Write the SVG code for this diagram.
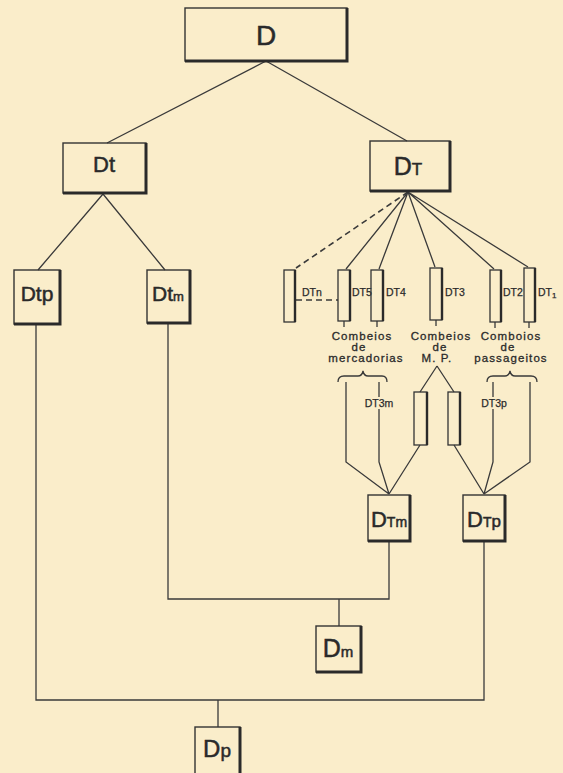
<svg xmlns="http://www.w3.org/2000/svg" width="563" height="773" viewBox="0 0 563 773">
<style>
.bg{fill:#faedca}
.box{fill:none;stroke:#333;stroke-width:1.4}
.sh{fill:none;stroke:#2a2a2a;stroke-width:3}
.bar{fill:none;stroke:#333;stroke-width:1.3}
.bsh{fill:none;stroke:#2a2a2a;stroke-width:2.4}
.ln{fill:none;stroke:#3a3a3a;stroke-width:1.3}
.dash{fill:none;stroke:#3a3a3a;stroke-width:1.6;stroke-dasharray:6 4}
.t{font-family:"Liberation Sans",Arial,sans-serif;fill:#2a2a2a;stroke:#2a2a2a;stroke-width:0.5;text-anchor:middle}
.lb{font-family:"Liberation Sans",Arial,sans-serif;fill:#2a2a2a;stroke:#2a2a2a;stroke-width:0.25;font-size:10.5px}
.hw{font-family:"Liberation Sans",Arial,sans-serif;fill:#2a2a2a;stroke:#2a2a2a;stroke-width:0.3;font-size:11.5px;text-anchor:middle;letter-spacing:1.1px}
</style>
<rect class="bg" x="0" y="0" width="563" height="773"/>
<g id="connectors">
<path class="ln" d="M266,61 L107,143 M266,61 L407,141"/>
<path class="ln" d="M103,194 L38,270 M103,194 L165,270"/>
<path class="dash" d="M408,192 L296,268"/>
<path class="ln" d="M408,192 L346,269 M408,192 L379,269 M408,192 L435,267 M408,192 L494,269 M408,192 L528,267"/>
<path class="dash" d="M296,300 L338,300"/>
<path class="ln" d="M344,321 V327 M377,321 V327 M436,320 V326 M495,322 V328 M529,322 V328"/>
<path class="ln" d="M338,382 Q338,376 344,376 L358,376 Q362,376 363,371 Q364,376 368,376 L382,376 Q387,376 387,382"/>
<path class="ln" d="M487,382 Q487,376 493,376 L505,376 Q509,376 510,371 Q511,376 515,376 L531,376 Q537,376 537,382"/>
<path class="ln" d="M437,366 L420,392 M437,366 L454,392"/>
<path class="ln" d="M346,382 V462 L389,494 M379,382 V397 M379,409 V462 L389,494 M420,445 L389,494"/>
<path class="ln" d="M493,382 V397 M493,409 V462 L484,494 M530,382 V462 L484,494 M454,445 L484,494"/>
<path class="ln" d="M168,323 V599 H389 V541 M339,599 V626"/>
<path class="ln" d="M36,324 V700 H484 V541 M218,700 V727"/>
</g>
<g id="D"><rect class="box" x="185" y="8" width="162" height="53"/><polyline class="sh" points="347,8 347,61 185,61"/><text class="t" x="266" y="45" font-size="28">D</text></g>
<g id="Dt"><rect class="box" x="63" y="143" width="83" height="50"/><polyline class="sh" points="146,143 146,193 63,193"/><text class="t" x="104" y="172" font-size="22">Dt</text></g>
<g id="DT"><rect class="box" x="370" y="141" width="80" height="50"/><polyline class="sh" points="450,141 450,191 370,191"/><text class="t" x="408" y="175" font-size="25">D<tspan font-size="17">T</tspan></text></g>
<g id="Dtp"><rect class="box" x="14" y="270" width="46" height="54"/><polyline class="sh" points="60,270 60,324 14,324"/><text class="t" x="37" y="301" font-size="21">Dtp</text></g>
<g id="Dtm"><rect class="box" x="147" y="270" width="43" height="53"/><polyline class="sh" points="190,270 190,323 147,323"/><text class="t" x="168" y="301" font-size="21">Dt<tspan font-size="13">m</tspan></text></g>
<g id="DTn"><rect class="bar" x="284" y="270" width="11" height="52"/><line class="bsh" x1="295" y1="270" x2="295" y2="322"/><text class="lb" x="302" y="296">DTn</text></g>
<g id="DT5"><rect class="bar" x="338" y="270" width="12" height="51"/><line class="bsh" x1="350" y1="270" x2="350" y2="321"/><text class="lb" x="352" y="296">DT5</text></g>
<g id="DT4"><rect class="bar" x="371" y="270" width="12" height="51"/><line class="bsh" x1="383" y1="270" x2="383" y2="321"/><text class="lb" x="386" y="296">DT4</text></g>
<g id="DT3"><rect class="bar" x="430" y="268" width="12" height="52"/><line class="bsh" x1="442" y1="268" x2="442" y2="320"/><text class="lb" x="445" y="296">DT3</text></g>
<g id="DT2"><rect class="bar" x="490" y="270" width="11" height="52"/><line class="bsh" x1="501" y1="270" x2="501" y2="322"/><text class="lb" x="503" y="296">DT2</text></g>
<g id="DT1"><rect class="bar" x="524" y="268" width="11" height="54"/><line class="bsh" x1="535" y1="268" x2="535" y2="322"/><text class="lb" x="538" y="296">DT<tspan font-size="8" dy="2">1</tspan></text></g>
<g id="merc"><text class="hw" x="362" y="340">Combeios</text><text class="hw" x="359" y="351">de</text><text class="hw" x="366" y="362">mercadorias</text></g>
<g id="mp"><text class="hw" x="441" y="340">Combeios</text><text class="hw" x="440" y="351">de</text><text class="hw" x="437" y="362">M. P.</text></g>
<g id="pass"><text class="hw" x="511" y="340">Comboios</text><text class="hw" x="508" y="351">de</text><text class="hw" x="511" y="362">passageitos</text></g>
<g id="MP1"><rect class="bar" x="414" y="392" width="13" height="53"/><line class="bsh" x1="427" y1="392" x2="427" y2="445"/></g>
<g id="MP2"><rect class="bar" x="448" y="392" width="12" height="53"/><line class="bsh" x1="460" y1="392" x2="460" y2="445"/></g>
<g id="DT3m"><text class="lb" x="379" y="407" text-anchor="middle" font-size="9.5">DT3m</text></g>
<g id="DT3p"><text class="lb" x="494" y="407" text-anchor="middle" font-size="9.5">DT3p</text></g>
<g id="DTm"><rect class="box" x="368" y="495" width="42" height="46"/><polyline class="sh" points="410,495 410,541 368,541"/><text class="t" x="389" y="527" font-size="22">D<tspan font-size="14">Tm</tspan></text></g>
<g id="DTp"><rect class="box" x="463" y="495" width="42" height="46"/><polyline class="sh" points="505,495 505,541 463,541"/><text class="t" x="484" y="527" font-size="22">D<tspan font-size="14">T</tspan><tspan font-size="17">p</tspan></text></g>
<g id="Dm"><rect class="box" x="316" y="626" width="45" height="46"/><polyline class="sh" points="361,626 361,672 316,672"/><text class="t" x="338" y="657" font-size="25">D<tspan font-size="15">m</tspan></text></g>
<g id="Dp"><rect class="box" x="195" y="727" width="45" height="52"/><polyline class="sh" points="240,727 240,779"/><text class="t" x="217" y="757" font-size="24">D<tspan font-size="19">p</tspan></text></g>
</svg>
